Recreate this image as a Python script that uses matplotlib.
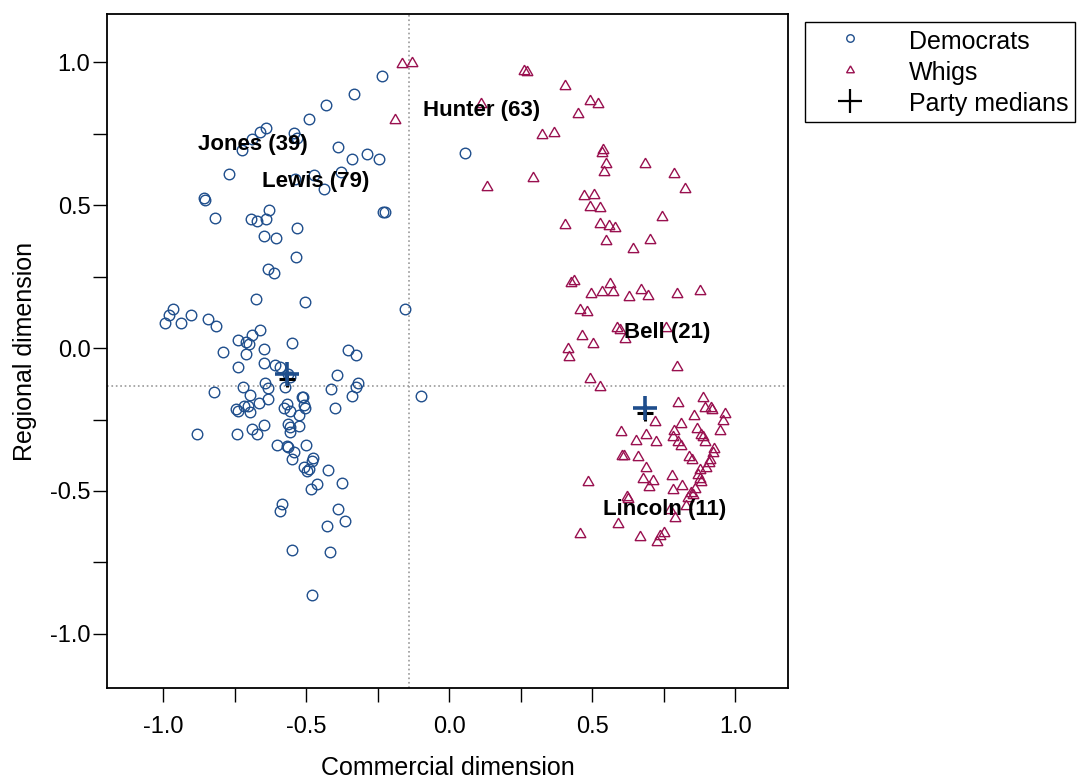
import numpy as np
import matplotlib.pyplot as plt
from matplotlib.lines import Line2D

plt.rcParams['font.family'] = ['Liberation Sans', 'DejaVu Sans']

##################   Data  #########################

dem_x = [-0.233, -0.332, -0.429, -0.490, -0.640, -0.661, -0.690, -0.723, -0.544, -0.531,
         -0.388, -0.286, -0.339, -0.244, -0.768, -0.377, -0.471, -0.538, -0.438, -0.857,
         -0.855, 0.056, -0.230, -0.224, -0.817, -0.629, -0.693, -0.672, -0.640, -0.531,
         -0.646, -0.607, -0.537, -0.635, -0.611, -0.675, -0.503, -0.964, -0.978, -0.902,
         -0.994, -0.939, -0.843, -0.816, -0.661, -0.688, -0.739, -0.710, -0.700, -0.789,
         -0.711, -0.647, -0.549, -0.738, -0.647, -0.608, -0.591, -0.565, -0.556, -0.643,
         -0.635, -0.574, -0.720, -0.822, -0.696, -0.635, -0.515, -0.663, -0.718, -0.702,
         -0.746, -0.737, -0.695, -0.567, -0.577, -0.556, -0.507, -0.503, -0.524, -0.565,
         -0.556, -0.524, -0.558, -0.647, -0.690, -0.671, -0.740, -0.881, -0.602, -0.567,
         -0.562, -0.500, -0.156, -0.353, -0.325, -0.393, -0.317, -0.326, -0.414, -0.340,
         -0.098, -0.399, -0.512, -0.541, -0.548, -0.476, -0.478, -0.508, -0.497, -0.490,
         -0.425, -0.375, -0.462, -0.483, -0.583, -0.591, -0.389, -0.363, -0.428, -0.551,
         -0.417, -0.478]
dem_y = [0.952, 0.888, 0.850, 0.801, 0.770, 0.754, 0.731, 0.692, 0.753, 0.734,
         0.703, 0.679, 0.661, 0.662, 0.608, 0.614, 0.605, 0.590, 0.557, 0.523,
         0.516, 0.683, 0.477, 0.474, 0.453, 0.481, 0.451, 0.444, 0.450, 0.420,
         0.393, 0.383, 0.319, 0.275, 0.261, 0.171, 0.162, 0.136, 0.115, 0.116,
         0.088, 0.086, 0.100, 0.078, 0.063, 0.045, 0.028, 0.020, 0.013, -0.015,
         -0.021, -0.003, 0.019, -0.065, -0.052, -0.058, -0.068, -0.092, -0.100, -0.124,
         -0.141, -0.138, -0.138, -0.154, -0.163, -0.178, -0.173, -0.192, -0.203, -0.202,
         -0.214, -0.221, -0.225, -0.196, -0.211, -0.219, -0.199, -0.211, -0.234, -0.266,
         -0.275, -0.273, -0.295, -0.269, -0.282, -0.302, -0.300, -0.300, -0.339, -0.342,
         -0.345, -0.340, 0.136, -0.006, -0.023, -0.096, -0.122, -0.138, -0.144, -0.168,
         -0.167, -0.211, -0.170, -0.364, -0.389, -0.386, -0.394, -0.416, -0.430, -0.423,
         -0.428, -0.473, -0.477, -0.494, -0.544, -0.569, -0.564, -0.604, -0.622, -0.705,
         -0.713, -0.863]

whig_x = [0.263, 0.272, 0.405, 0.111, 0.491, 0.522, 0.452, 0.324, 0.365, 0.537,
          0.535, 0.547, 0.543, 0.684, 0.787, 0.824, 0.294, 0.132, 0.471, 0.507,
          0.493, 0.527, 0.746, 0.405, 0.529, 0.558, 0.580, 0.550, 0.702, 0.644,
          -0.165, -0.130, -0.189, 0.426, 0.436, 0.497, 0.535, 0.561, 0.573, 0.628,
          0.670, 0.695, 0.798, 0.878, 0.456, 0.483, 0.587, 0.598, 0.614, 0.759,
          0.465, 0.502, 0.417, 0.420, 0.798, 0.494, 0.526, 0.886, 0.802, 0.895,
          0.915, 0.920, 0.963, 0.957, 0.857, 0.720, 0.810, 0.601, 0.788, 0.866,
          0.948, 0.688, 0.654, 0.724, 0.784, 0.882, 0.887, 0.893, 0.802, 0.811,
          0.927, 0.922, 0.603, 0.613, 0.661, 0.838, 0.850, 0.913, 0.908, 0.688,
          0.897, 0.878, 0.870, 0.780, 0.484, 0.678, 0.714, 0.877, 0.879, 0.699,
          0.815, 0.783, 0.859, 0.846, 0.851, 0.836, 0.622, 0.625, 0.829, 0.773,
          0.790, 0.589, 0.459, 0.669, 0.753, 0.739, 0.728]
whig_y = [0.969, 0.965, 0.916, 0.852, 0.865, 0.854, 0.820, 0.745, 0.752, 0.692,
          0.681, 0.642, 0.614, 0.644, 0.608, 0.557, 0.594, 0.564, 0.533, 0.535,
          0.493, 0.491, 0.457, 0.430, 0.435, 0.428, 0.420, 0.374, 0.379, 0.345,
          0.992, 0.995, 0.796, 0.228, 0.235, 0.189, 0.196, 0.224, 0.195, 0.178,
          0.203, 0.181, 0.188, 0.199, 0.133, 0.126, 0.069, 0.063, 0.031, 0.069,
          0.043, 0.013, -0.005, -0.030, -0.066, -0.109, -0.136, -0.175, -0.194, -0.211,
          -0.211, -0.217, -0.229, -0.254, -0.238, -0.259, -0.266, -0.293, -0.289, -0.284,
          -0.289, -0.304, -0.324, -0.329, -0.312, -0.304, -0.312, -0.329, -0.329, -0.343,
          -0.354, -0.368, -0.378, -0.378, -0.380, -0.380, -0.392, -0.392, -0.401, -0.421,
          -0.421, -0.427, -0.444, -0.446, -0.470, -0.458, -0.464, -0.459, -0.467, -0.485,
          -0.483, -0.497, -0.493, -0.508, -0.514, -0.526, -0.522, -0.528, -0.552, -0.566,
          -0.596, -0.617, -0.649, -0.661, -0.648, -0.657, -0.677]

# party medians (black) and the blue crosses drawn on top
median_x = [-0.566, 0.686]
median_y = [-0.108, -0.227]
blue_x = [-0.566, 0.686]
blue_y = [-0.091, -0.211]

# reference lines
ref_x = -0.142
ref_y = -0.132

# labelled members
names = ['Jones (39)', 'Lewis (79)', 'Hunter (63)', 'Bell (21)', 'Lincoln (11)']
name_x = [-0.687, -0.468, 0.112, 0.762, 0.754]
name_y = [0.713, 0.584, 0.832, 0.054, -0.566]

tick_vals = [-1.0, -0.75, -0.5, -0.25, 0.0, 0.25, 0.5, 0.75, 1.0]
tick_labs = ['-1.0', '', '-0.5', '', '0.0', '', '0.5', '', '1.0']

###############   Plot data    ########################

blue = '#1f4e8c'
red = '#99104f'
tri = (3, 0, 0)

fig = plt.figure(figsize=(10.77, 7.83), dpi=100)
ax = fig.add_axes([0.0994, 0.1213, 0.6323, 0.8608])

ax.axvline(ref_x, color='#999999', ls=':', lw=1.2, zorder=1)
ax.axhline(ref_y, color='#999999', ls=':', lw=1.2, zorder=1)

ax.plot(dem_x, dem_y, 'o', mfc='none', mec=blue, ms=7.6, mew=1.0, zorder=3)
ax.plot(whig_x, whig_y, marker=tri, ls='none', mfc='none', mec=red, ms=9, mew=1.0, zorder=3)
ax.plot(median_x, median_y, '+', color='black', ms=11, mew=2.2, zorder=4)
ax.plot(blue_x, blue_y, '+', color=blue, ms=17, mew=2.6, zorder=5)

for n, x, y in zip(names, name_x, name_y):
    ax.text(x, y, n, fontsize=16, fontweight='bold', ha='center', va='center', zorder=6)

ax.set_xlim(-1.196, 1.185)
ax.set_ylim(-1.189, 1.168)
ax.set_xticks(tick_vals)
ax.set_xticklabels(tick_labs)
ax.set_yticks(tick_vals)
ax.set_yticklabels(tick_labs)
ax.tick_params(direction='out', length=10, width=1, labelsize=17)
ax.tick_params(axis='x', pad=10)
ax.tick_params(axis='y', pad=2)
for s in ax.spines.values():
    s.set_linewidth(1.3)

ax.set_xlabel('Commercial dimension', fontsize=18, labelpad=13)
ax.set_ylabel('Regional dimension', fontsize=18, labelpad=9)

handles = [Line2D([], [], ls='none', marker='o', mfc='none', mec=blue, ms=5.4, mew=1.0),
           Line2D([], [], ls='none', marker=tri, mfc='none', mec=red, ms=6.5, mew=1.0),
           Line2D([], [], ls='none', marker='+', color='black', ms=17, mew=1.6)]
leg = fig.legend(handles, ['Democrats', 'Whigs', 'Party medians'],
                 loc='upper left', bbox_to_anchor=(0.7475, 0.9725), fontsize=18,
                 frameon=True, fancybox=False, framealpha=1, edgecolor='black',
                 borderpad=0.26, handletextpad=0.82, handlelength=3.08,
                 handleheight=1.12, labelspacing=0.22, borderaxespad=0)
leg.get_frame().set_linewidth(1.0)

plt.savefig('out.png', dpi=100)
